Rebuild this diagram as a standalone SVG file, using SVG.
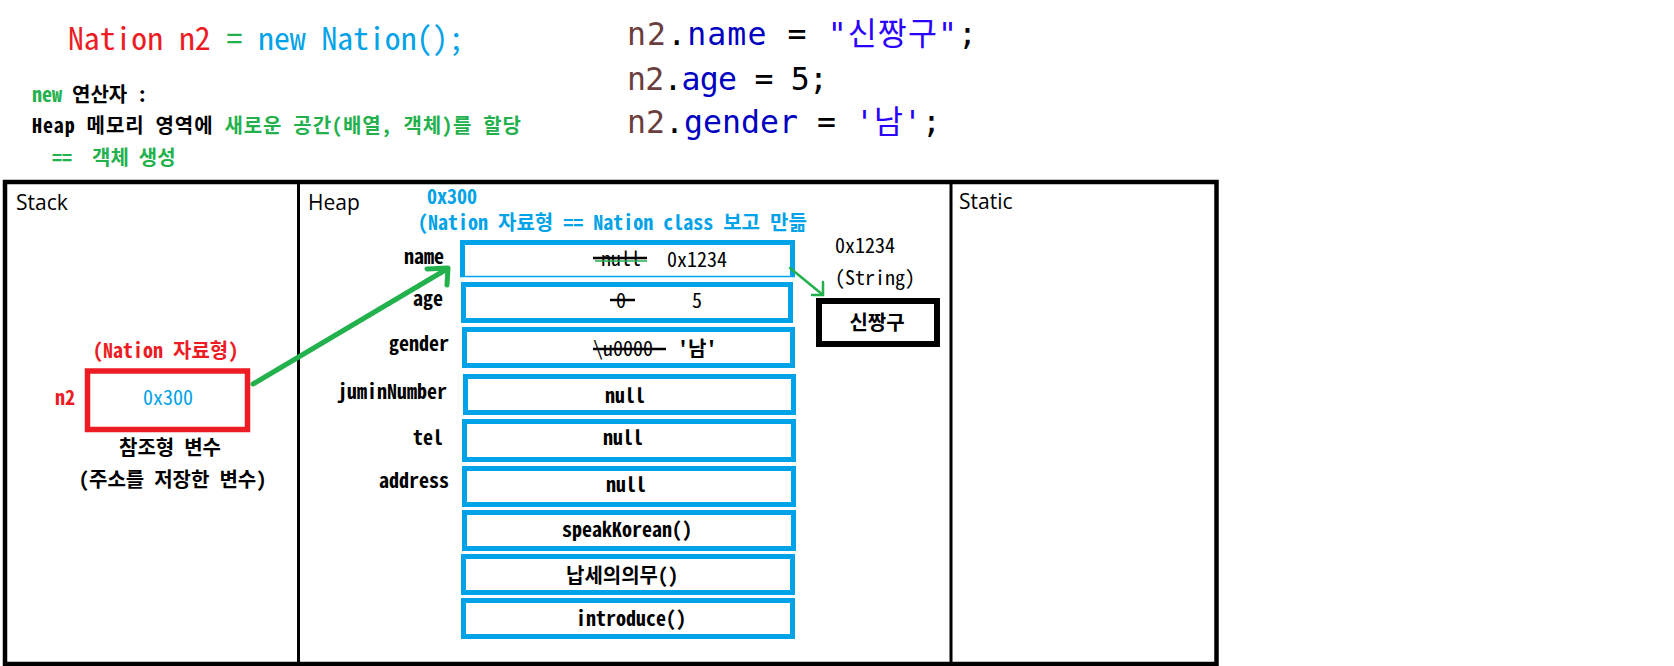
<svg xmlns="http://www.w3.org/2000/svg" width="1674" height="666" viewBox="0 0 1674 666">
<style>
.mono{font-family:"Noto Sans Mono CJK KR","DejaVu Sans Mono","Noto Sans CJK KR",monospace;font-size:20px;fill:#000}
.b{font-weight:bold}
.code{font-family:"DejaVu Sans Mono","Noto Sans CJK KR",monospace;font-size:31.5px}
.area{font-family:"Open Sans","Noto Sans",sans-serif;font-size:21px;fill:#000}
.red{fill:#ED1C24}.grn{fill:#22B14C}.blu{fill:#00A2E8}
.slot{fill:#fff;stroke:#00A2E8;stroke-width:5}
.strike{stroke:#000;stroke-width:2.5}
.conn{stroke:#22B14C;fill:none;stroke-linecap:round;stroke-linejoin:round}
</style>
<rect width="1674" height="666" fill="#fff"/>
<g id="code-top">
<text class="mono" x="68" y="50" style="font-size:31.7px" textLength="396"><tspan class="red">Nation n2 </tspan><tspan class="grn">=</tspan><tspan class="blu"> new Nation();</tspan></text>
<text class="mono b" x="32" y="102"><tspan class="grn">new</tspan> 연산자 :</text>
<text class="mono b" x="32" y="133" textLength="489">Heap 메모리 영역에 <tspan class="grn">새로운 공간(배열, 객체)를 할당</tspan></text>
<text class="mono b grn" x="52" y="165" xml:space="preserve">==  객체 생성</text>
</g>
<g id="code-assign">
<text class="code" x="627" y="45" textLength="350"><tspan fill="#6A3E3E">n2</tspan>.<tspan fill="#0000C0">name</tspan> = <tspan fill="#2A00FF">"신짱구"</tspan>;</text>
<text class="code" x="627" y="90" textLength="201"><tspan fill="#6A3E3E">n2</tspan>.<tspan fill="#0000C0">age</tspan> = 5;</text>
<text class="code" x="627" y="133" textLength="314"><tspan fill="#6A3E3E">n2</tspan>.<tspan fill="#0000C0">gender</tspan> = <tspan fill="#2A00FF">'남'</tspan>;</text>
</g>
<g id="memory-frame">
<rect x="5" y="182" width="1211.5" height="482" fill="none" stroke="#000" stroke-width="4.5"/>
<line x1="298.5" y1="182" x2="298.5" y2="664" stroke="#000" stroke-width="3"/>
<line x1="951" y1="182" x2="951" y2="664" stroke="#000" stroke-width="3"/>
<text class="area" x="16" y="210">Stack</text>
<text class="area" x="308" y="210">Heap</text>
<text class="area" x="959" y="209">Static</text>
</g>
<g id="stack-n2">
<text class="mono b red" x="93" y="358">(Nation 자료형)</text>
<text class="mono b red" x="55" y="405">n2</text>
<rect x="87.5" y="371" width="160" height="58.5" fill="#fff" stroke="#ED1C24" stroke-width="5.5"/>
<text class="mono blu" x="143" y="405">0x300</text>
<text class="mono b" x="119" y="455">참조형 변수</text>
<text class="mono b" x="79" y="487">(주소를 저장한 변수)</text>
</g>
<g id="heap-object">
<text class="mono b blu" x="427" y="204">0x300</text>
<text class="mono b blu" x="418" y="230">(Nation 자료형 == Nation class 보고 만듦</text>
<g class="mono b" text-anchor="end">
<text x="444" y="264">name</text>
<text x="443" y="306">age</text>
<text x="449" y="351">gender</text>
<text x="447" y="399">juminNumber</text>
<text x="443" y="445">tel</text>
<text x="449" y="488">address</text>
</g>
</g>
<g id="field-name">
<path d="M462.5,276 V242.5 H792.5 V276" fill="#fff" stroke="#00A2E8" stroke-width="5"/>
<line x1="460" y1="276.5" x2="795" y2="276.5" stroke="#00A2E8" stroke-width="1.5"/>
<text class="mono" x="601" y="266">null</text>
<line x1="595" y1="261" x2="647" y2="261" stroke="#22B14C" stroke-width="1.5"/>
<line class="strike" x1="593" y1="258" x2="647" y2="258"/>
<text class="mono" x="667" y="267">0x1234</text>
</g>
<g id="field-age">
<rect class="slot" x="463.5" y="284.5" width="327" height="36"/>
<text class="mono" x="616" y="308">0</text>
<line class="strike" x1="610" y1="300" x2="635" y2="300"/>
<text class="mono" x="692" y="308">5</text>
</g>
<g id="field-gender">
<rect class="slot" x="464.5" y="329.5" width="328" height="36"/>
<text class="mono" x="593" y="356">\u0000</text>
<line class="strike" x1="593" y1="349" x2="666" y2="349"/>
<text class="mono b" x="678" y="356">'남'</text>
</g>
<g id="field-juminNumber">
<rect class="slot" x="465.5" y="376.5" width="328" height="36"/>
<text class="mono b" x="625" y="403" text-anchor="middle">null</text>
</g>
<g id="field-tel">
<rect class="slot" x="464.5" y="421.5" width="329" height="38"/>
<text class="mono b" x="623" y="445" text-anchor="middle">null</text>
</g>
<g id="field-address">
<rect class="slot" x="464.5" y="468.5" width="329" height="36"/>
<text class="mono b" x="626" y="492" text-anchor="middle">null</text>
</g>
<g id="method-speakKorean">
<rect class="slot" x="464.5" y="512.5" width="329" height="36"/>
<text class="mono b" x="627" y="537" text-anchor="middle">speakKorean()</text>
</g>
<g id="method-tax">
<rect class="slot" x="463.5" y="556.5" width="329" height="36"/>
<text class="mono b" x="622" y="583" text-anchor="middle">납세의의무()</text>
</g>
<g id="method-introduce">
<rect class="slot" x="463.5" y="600.5" width="329" height="36"/>
<text class="mono b" x="631" y="626" text-anchor="middle">introduce()</text>
</g>
<g id="string-object">
<text class="mono" x="835" y="253">0x1234</text>
<text class="mono" x="835" y="285">(String)</text>
<rect x="819" y="301" width="118" height="43" fill="#fff" stroke="#000" stroke-width="6"/>
<text class="mono b" x="877" y="330" text-anchor="middle">신짱구</text>
</g>
<g id="connectors">
<line class="conn" x1="253" y1="384" x2="447" y2="269" stroke-width="5"/>
<polyline class="conn" points="427,269 448,268 447,285" stroke-width="5"/>
<line class="conn" x1="790" y1="268" x2="823" y2="295" stroke-width="2.5"/>
<polyline class="conn" points="812,295 823,295 823,282" stroke-width="2.5"/>
</g>
</svg>
